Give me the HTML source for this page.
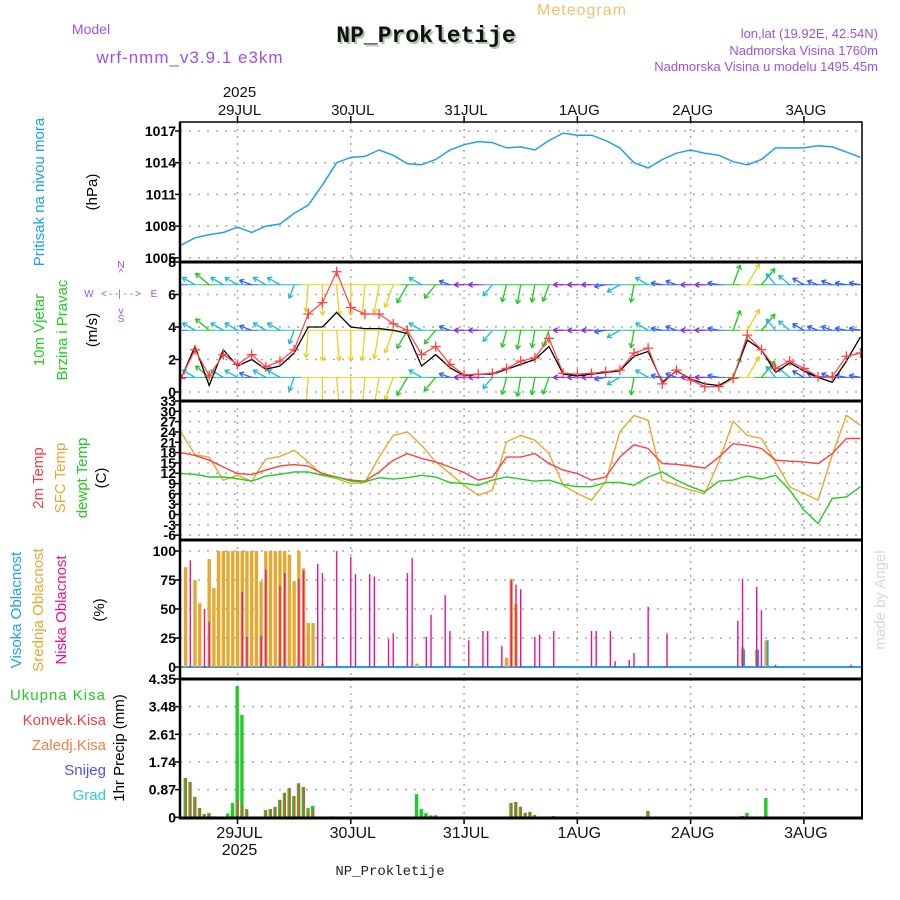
<!DOCTYPE html>
<html><head><meta charset="utf-8"><style>
html,body{margin:0;padding:0;background:#fff;}
svg{display:block;font-family:"Liberation Sans",sans-serif;}
</style></head><body>
<svg id="chart" width="900" height="900" viewBox="0 0 900 900" xmlns="http://www.w3.org/2000/svg">
<rect x="0" y="0" width="900" height="900" fill="#fff"/>
<text x="582" y="15" font-size="16" fill="#f0c070" text-anchor="middle" letter-spacing="1">Meteogram</text>
<text x="91" y="34" font-size="14" fill="#a050e0" text-anchor="middle">Model</text>
<text x="190" y="63" font-size="17" fill="#a050e0" text-anchor="middle" letter-spacing="1">wrf-nmm_v3.9.1 e3km</text>
<text x="428" y="44" font-size="23" font-weight="bold" font-family="Liberation Mono, monospace" fill="#a8c8a8" text-anchor="middle">NP_Prokletije</text>
<text x="426" y="42" font-size="23" font-weight="bold" font-family="Liberation Mono, monospace" fill="#111" text-anchor="middle">NP_Prokletije</text>
<g font-size="13" fill="#a050e0" text-anchor="end">
<text x="878" y="38">lon,lat (19.92E, 42.54N)</text>
<text x="878" y="55">Nadmorska Visina 1760m</text>
<text x="878" y="71">Nadmorska Visina u modelu 1495.45m</text>
</g>
<g id="grid"></g>
<g id="marks"></g>
<g id="axes"></g>
<g font-size="15">
<text transform="translate(44,192) rotate(-90)" text-anchor="middle" fill="#1fa0ee">Pritisak na nivou mora</text>
<text transform="translate(97,192) rotate(-90)" text-anchor="middle" fill="#000">(hPa)</text>
<text transform="translate(44,330) rotate(-90)" text-anchor="middle" fill="#22cc22">10m Vjetar</text>
<text transform="translate(67,330) rotate(-90)" text-anchor="middle" fill="#22cc22">Brzina i Pravac</text>
<text transform="translate(97,330) rotate(-90)" text-anchor="middle" fill="#000">(m/s)</text>
<text transform="translate(43,478) rotate(-90)" text-anchor="middle" fill="#f04040">2m Temp</text>
<text transform="translate(65,478) rotate(-90)" text-anchor="middle" fill="#e8a830">SFC Temp</text>
<text transform="translate(87,478) rotate(-90)" text-anchor="middle" fill="#22cc22">dewpt Temp</text>
<text transform="translate(106,478) rotate(-90)" text-anchor="middle" fill="#000">(C)</text>
<text transform="translate(21,610) rotate(-90)" text-anchor="middle" fill="#1fa0ee">Visoka Oblacnost</text>
<text transform="translate(43,610) rotate(-90)" text-anchor="middle" fill="#e8a830">Srednja Oblacnost</text>
<text transform="translate(66,610) rotate(-90)" text-anchor="middle" fill="#ee1090">Niska Oblacnost</text>
<text transform="translate(104,610) rotate(-90)" text-anchor="middle" fill="#000">(%)</text>
<text transform="translate(124,748) rotate(-90)" text-anchor="middle" fill="#000">1hr Precip (mm)</text>
<text x="106" y="700" text-anchor="end" fill="#22cc22" letter-spacing="1">Ukupna  Kisa</text>
<text x="106" y="725" text-anchor="end" fill="#f04040">Konvek.Kisa</text>
<text x="106" y="750" text-anchor="end" fill="#f08040">Zaledj.Kisa</text>
<text x="106" y="775" text-anchor="end" fill="#5050ee">Snijeg</text>
<text x="106" y="800" text-anchor="end" fill="#30c8d8">Grad</text>
</g>
<g fill="#a050e0" font-size="10">
<text x="121" y="268" text-anchor="middle">N</text>
<text x="121" y="276" text-anchor="middle">^</text>
<text x="121" y="297" text-anchor="middle">- -| - -</text>
<text x="89" y="297" text-anchor="middle">W</text>
<text x="104" y="297" text-anchor="middle">&lt;</text>
<text x="138" y="297" text-anchor="middle">&gt;</text>
<text x="154" y="297" text-anchor="middle">E</text>
<text x="121" y="314" text-anchor="middle">v</text>
<text x="121" y="322" text-anchor="middle">S</text>
</g>
<text transform="translate(885,600) rotate(-90)" text-anchor="middle" font-size="15" fill="#d8d8d8">made by Angel</text>
<text x="390" y="875" font-size="14" font-family="Liberation Mono, monospace" text-anchor="middle" fill="#222">NP_Prokletije</text>
</svg>
<script>
const hours3 = [-12,-9,-6,-3,0,3,6,9,12,15,18,21,24,27,30,33,36,39,42,45,48,51,54,57,60,63,66,69,72,75,78,81,84,87,90,93,96,99,102,105,108,111,114,117,120,123,126,129,132];
const pressure = [1006.2,1006.9,1007.2,1007.4,1007.9,1007.4,1008.0,1008.2,1009.2,1010.0,1011.9,1014.0,1014.5,1014.6,1015.2,1014.7,1013.9,1013.8,1014.3,1015.2,1015.7,1016.0,1015.9,1015.4,1015.5,1015.2,1016.1,1016.8,1016.6,1016.6,1016.1,1015.4,1014.0,1013.5,1014.3,1014.9,1015.2,1014.9,1014.7,1014.1,1013.8,1014.3,1015.4,1015.4,1015.4,1015.6,1015.5,1015.0,1014.5];
const gust = [0.84,2.6,1.0,2.3,1.7,2.3,1.55,1.9,2.6,4.8,5.5,7.4,5.2,4.8,4.8,4.2,3.8,2.3,2.8,1.7,1.05,1.1,1.15,1.45,1.9,2.1,3.3,1.15,1.1,1.15,1.25,1.35,2.4,2.7,0.5,1.35,0.74,0.33,0.33,0.84,3.5,2.6,1.45,1.9,1.45,0.94,0.94,2.2,2.4];
const windSpeed = [0.8,2.8,0.4,2.6,1.6,2.0,1.4,1.6,2.4,4.0,4.0,4.9,4.0,3.9,3.9,3.8,3.6,1.6,2.3,1.5,1.0,1.1,1.1,1.4,1.7,2.0,2.8,1.1,1.0,1.1,1.2,1.3,2.2,2.5,0.6,1.3,0.8,0.5,0.4,0.9,3.2,2.6,1.2,1.8,1.3,0.9,0.6,1.9,3.4];
const windTo = [290,300,310,300,300,290,300,300,200,185,180,175,180,185,190,200,210,300,220,290,270,270,220,195,190,190,200,270,270,270,260,240,190,300,280,290,270,270,280,20,30,40,320,310,300,290,290,280,280];
const windArrowSpd = [2,3,4,3,3,2.5,3,3,3,7,8,8,8,8,7.5,6,5,3,4,2,1.5,1.5,3,4,4.5,4,4,1.5,1.5,1.5,2,3,4,3,2,2,1.5,1.5,2,5,6,5,3,3,2.5,2,2,2,2];
const temp2m = [18.0,17.2,15.8,13.8,11.9,11.6,12.9,14.1,14.5,14.1,11.9,10.9,10.0,9.7,12.4,15.8,17.7,16.3,15.3,13.8,12.2,10.0,10.9,16.7,16.7,17.7,14.8,12.9,11.9,10.0,10.9,16.7,20.3,19.2,14.8,14.6,14.1,13.5,16.7,20.6,20.1,19.2,15.8,15.5,15.3,14.8,17.7,22.1,22.1];
const tempSfc = [24.0,17.4,16.7,10.0,11.4,9.7,16.1,16.9,18.7,15.3,11.4,10.4,9.0,9.3,16.7,23.0,24.0,20.1,15.3,11.9,8.5,5.6,7.1,21.1,23.0,21.6,17.7,8.5,6.1,4.2,9.5,24.0,28.8,27.4,10.0,8.5,7.1,6.1,15.3,27.1,23.0,22.1,15.3,8.0,6.1,4.2,17.2,28.8,25.9];
const dewpoint = [11.9,11.7,10.9,10.9,10.4,9.7,11.2,11.7,12.4,12.4,11.4,10.9,9.7,9.5,10.7,10.3,10.7,11.4,10.9,9.3,9.0,8.5,10.0,10.9,10.3,9.7,10.0,8.7,8.1,8.1,9.3,9.3,8.5,10.9,12.4,10.0,8.1,6.6,9.7,10.0,11.2,10.3,11.4,7.1,1.3,-2.6,4.7,5.1,8.1];
const midCloudHours = [-11,-9,-8,-6,-5,-4,-3,-2,-1,0,1,2,3,4,5,6,7,8,9,10,11,12,13,14,15,16,18,38,57,58,59,107,110,112];
const midCloud = [86,75,55,93,68,100,100,100,100,100,100,100,100,100,74,100,100,100,100,100,97,74,100,85,38,38,3,3,8,76,54,17,15,23];
const lowCloudHours = [-10,-7,-6,1,2,5,6,9,10,13,14,17,18,21,24,25,28,29,32,33,36,37,40,41,44,45,49,52,53,56,58,59,60,63,64,67,75,76,79,80,83,84,87,91,106,107,110,111,114,130];
const lowCloud = [92,50,39,65,26,27,84,70,81,76,83,89,81,100,95,80,80,78,24,29,81,94,26,45,62,31,23,31,31,18,75,71,67,26,28,31,31,31,31,5,6,12,52,29,40,76,69,49,2,2];
const highCloudHours = [107,110,112];
const highCloud = [15,15,23];
const precipHours = [-11,-10,-9,-8,-7,-6,-5,-2,-1,0,1,2,6,7,8,9,10,11,12,13,14,15,16,20,38,39,40,41,42,58,59,60,61,62,63,65,67,87,107,108,112];
const totalPrecip = [1.24,1.11,0.64,0.29,0.1,0.14,0.03,0.12,0.45,4.13,3.22,0.26,0.23,0.26,0.33,0.55,0.77,0.92,0.67,1.07,0.95,0.29,0.36,0.03,0.73,0.26,0.13,0.06,0.06,0.45,0.48,0.33,0.14,0.17,0.07,0.01,0.04,0.2,0.04,0.14,0.61];
const convPrecip = [1.24,1.11,0.64,0.29,0.1,0.1,0.03,0,0,0.55,0.37,0.2,0.23,0.26,0.33,0.55,0.77,0.92,0.67,1.07,0.95,0.17,0.25,0,0,0,0,0.05,0.06,0.45,0.48,0.33,0.14,0.17,0.07,0.01,0,0.2,0,0,0.06];
const pressureTicks = [1005,1008,1011,1014,1017];
const windTicks = [0,2,4,6,8];
const tempTicks = [-6,-3,0,3,6,9,12,15,18,21,24,27,30,33];
const cloudTicks = [0,25,50,75,100];
const precipTicks = [0,0.87,1.74,2.61,3.48,4.35];
const dayHours = [0,24,48,72,96,120];
const dayLabels = ["29JUL","30JUL","31JUL","1AUG","2AUG","3AUG"];

const NS = "http://www.w3.org/2000/svg";
const L = 180, R = 862;
const xT = t => 237.5 + t * 4.72;
const yP = p => 131 + (1017 - p) * 10.57;
const yW = s => 392 - s * 16.25;
const yTe = v => 401 + (33 - v) * 3.44;
const yC = c => 667 - c * 1.16;
const yR = v => 817.3 - v * 31.8;
const panels = [[122,262],[262,401],[401,540],[540,679],[679,818]];

function mk(tag, attrs, parent) {
  const e = document.createElementNS(NS, tag);
  for (const k in attrs) e.setAttribute(k, attrs[k]);
  parent.appendChild(e);
  return e;
}
const grid = document.getElementById('grid');
const marks = document.getElementById('marks');
const axes = document.getElementById('axes');

// clip paths
const defs = mk('defs', {}, document.getElementById('chart'));
panels.forEach((p, i) => {
  const cp = mk('clipPath', {id: 'clip' + i}, defs);
  mk('rect', {x: L, y: p[0], width: R - L, height: p[1] - p[0]}, cp);
});

// vertical day gridlines
panels.forEach(p => {
  dayHours.forEach(h => {
    const g = mk('line', {x1: xT(h), x2: xT(h), y1: p[0], y2: p[1], stroke: '#aaa', 'stroke-width': 1.5, 'stroke-dasharray': '2,5'}, grid);
    
    
  });
});
function hGrid(ticks, yf, pi, labels) {
  ticks.forEach((v, i) => {
    const y = yf(v);
    const g = mk('line', {x1: L, x2: R, y1: y, y2: y, stroke: '#aaa', 'stroke-width': 1.5, 'stroke-dasharray': '2,7'}, grid);
    
    
    mk('line', {x1: L - 5, x2: L, y1: y, y2: y, stroke: '#000', 'stroke-width': 1.5}, axes);
    const t = mk('text', {x: L - 4, y: y + 5, 'font-size': 14, 'text-anchor': 'end', fill: '#000', 'font-weight': 'bold'}, axes);
    t.textContent = labels ? labels[i] : v;
    
    
  });
}
hGrid(pressureTicks, yP, 0);
hGrid(windTicks, yW, 1);
hGrid(tempTicks, yTe, 2);
hGrid(cloudTicks, yC, 3);
hGrid(precipTicks, yR, 4, ["0","0.87","1.74","2.61","3.48","4.35"]);

function line(vals, xs, yf, color, w, clip, name) {
  const d = vals.map((v, i) => (i ? 'L' : 'M') + xT(xs[i]).toFixed(1) + ',' + yf(v).toFixed(1)).join('');
  const p = mk('path', {d: d, fill: 'none', stroke: color, 'stroke-width': w, 'clip-path': 'url(#clip' + clip + ')'}, marks);
  
  
}
line(pressure, hours3, yP, '#1fa0ee', 1.5, 0, 'pressure-line');

// wind arrows in three rows
const rows = [6.6, 3.8, 0.9];
function wcol(s) { return s < 2 ? '#8a2be2' : s < 3 ? '#3060ff' : s < 4 ? '#20b8d8' : s < 6 ? '#20c820' : '#e8d020'; }
rows.forEach(r => {
  const by = yW(r);
  windTo.forEach((dir, i) => {
    const len = windArrowSpd[i] * 3.2 + 5;
    const a = dir * Math.PI / 180;
    const x0 = xT(hours3[i]), x1 = x0 + Math.sin(a) * len, y1 = by - Math.cos(a) * len;
    const c = wcol(windArrowSpd[i]);
    const g = mk('g', {stroke: c, 'stroke-width': 1.3, 'clip-path': 'url(#clip1)'}, marks);
    
    
    mk('line', {x1: x0, y1: by, x2: x1, y2: y1}, g);
    [150, 210].forEach(o => {
      const b = a + o * Math.PI / 180;
      mk('line', {x1: x1, y1: y1, x2: x1 + Math.sin(b) * 5, y2: y1 - Math.cos(b) * 5}, g);
    });
    mk('line', {x1: x0 - 7, y1: by, x2: x0 + 7, y2: by, stroke: c, 'stroke-width': 1}, g);
  });
});
line(windSpeed, hours3, yW, '#000', 1.3, 1, 'wind-speed-line');
line(gust, hours3, yW, '#ff4040', 1.2, 1, 'wind-gust-line');
gust.forEach((v, i) => {
  const x = xT(hours3[i]), y = yW(v);
  const g = mk('path', {d: `M${x-5},${y}H${x+5}M${x},${y-5}V${y+5}`, stroke: '#ff4040', 'stroke-width': 1.3, 'clip-path': 'url(#clip1)'}, marks);
  
  
});

line(tempSfc, hours3, yTe, '#e8a830', 1.4, 2, 'sfc-temp-line');
line(temp2m, hours3, yTe, '#ff4040', 1.4, 2, '2m-temp-line');
line(dewpoint, hours3, yTe, '#22cc22', 1.4, 2, 'dewpoint-line');

// cloud bars
const zc = mk('line', {x1: L, x2: R, y1: yC(0), y2: yC(0), stroke: '#1fa0ee', 'stroke-width': 2}, marks);


midCloud.forEach((v, i) => {
  const x = xT(midCloudHours[i]);
  const b = mk('rect', {x: x - 1.7, y: yC(v), width: 3.4, height: yC(0) - yC(v), fill: '#e8a830'}, marks);
  
  
});
highCloud.forEach((v, i) => {
  const x = xT(highCloudHours[i]);
  const b = mk('rect', {x: x + 0.5, y: yC(v), width: 2, height: yC(0) - yC(v), fill: '#1fa0ee'}, marks);
  
  
});
lowCloud.forEach((v, i) => {
  const x = xT(lowCloudHours[i]);
  const b = mk('rect', {x: x - 0.7, y: yC(v), width: 1.4, height: yC(0) - yC(v), fill: '#ee1090'}, marks);
  
  
});

// precip bars
totalPrecip.forEach((v, i) => {
  const x = xT(precipHours[i]);
  const b = mk('rect', {x: x - 2, y: yR(v), width: 3.4, height: yR(0) - yR(v), fill: '#22cc22'}, marks);
  
  
});
convPrecip.forEach((v, i) => {
  if (v <= 0) return;
  const x = xT(precipHours[i]);
  const b = mk('rect', {x: x - 0.4, y: yR(v), width: 1.6, height: yR(0) - yR(v), fill: '#f04040'}, marks);
  
  
});

// frames
panels.forEach((p, i) => {
  const f = mk('rect', {x: L, y: p[0], width: R - L, height: p[1] - p[0], fill: 'none', stroke: '#000', 'stroke-width': i === 0 ? 1.5 : 2}, axes);
  
  
});
[262, 401, 540, 679, 818].forEach(y => mk('line', {x1: L - 1, x2: R + 1, y1: y, y2: y, stroke: '#000', 'stroke-width': 3}, axes));
mk('line', {x1: L, x2: L, y1: 122, y2: 819, stroke: '#000', 'stroke-width': 2.5}, axes);

// date ticks and labels
dayHours.forEach((h, i) => {
  const x = xT(h);
  mk('line', {x1: x, x2: x, y1: 116, y2: 122, stroke: '#000', 'stroke-width': 1.5}, axes);
  mk('line', {x1: x, x2: x, y1: 818, y2: 824, stroke: '#000', 'stroke-width': 1.5}, axes);
  const t1 = mk('text', {x: x + 2, y: 115, 'font-size': 15, 'text-anchor': 'middle', fill: '#111'}, axes);
  t1.textContent = dayLabels[i];
  
  
  const t2 = mk('text', {x: x + 2, y: 838, 'font-size': 16, 'text-anchor': 'middle', fill: '#111'}, axes);
  t2.textContent = dayLabels[i];
  
  
});
const y1 = mk('text', {x: xT(0) + 2, y: 97, 'font-size': 15, 'text-anchor': 'middle', fill: '#111'}, axes);
y1.textContent = '2025';


const y2 = mk('text', {x: xT(0) + 2, y: 855, 'font-size': 16, 'text-anchor': 'middle', fill: '#111'}, axes);
y2.textContent = '2025';


</script>
</body></html>
